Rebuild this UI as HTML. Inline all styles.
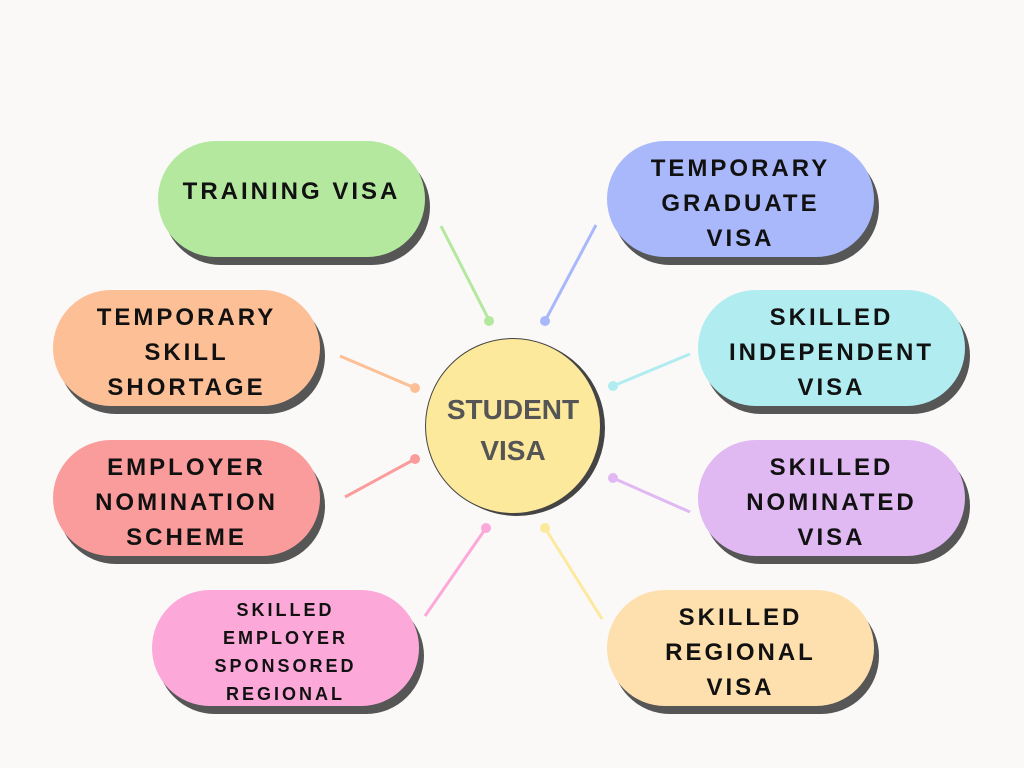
<!DOCTYPE html>
<html><head><style>
body{margin:0;width:1024px;height:768px;background:#faf9f8;position:relative;overflow:hidden;font-family:"Liberation Sans",sans-serif}
.p{position:absolute;width:267px;height:116px;border-radius:58px;box-shadow:5px 8px 0 #565656;display:flex;align-items:center;justify-content:center;text-align:center;font-weight:bold;font-size:24px;letter-spacing:3px;line-height:35px;color:#111;padding-top:8px;box-sizing:border-box}
.c{position:absolute;left:425px;top:338px;width:176px;height:176px;border-radius:50%;background:#fde99c;border:1.5px solid #444;box-shadow:4px 2px 0 #444;display:flex;align-items:center;justify-content:center;text-align:center;font-weight:bold;font-size:28px;line-height:41px;color:#555;padding-top:8px;box-sizing:border-box}
</style></head><body>
<svg width="1024" height="768" style="position:absolute;left:0;top:0">
<g stroke-width="3">
<line x1="441" y1="226" x2="489" y2="320" stroke="#b4e89e"/><circle cx="489" cy="321" r="5" fill="#b4e89e"/>
<line x1="596" y1="225" x2="545" y2="321" stroke="#a9b8fb"/><circle cx="545" cy="321" r="5" fill="#a9b8fb"/>
<line x1="340" y1="356" x2="415" y2="388" stroke="#fdbf96"/><circle cx="415" cy="388" r="5" fill="#fdbf96"/>
<line x1="690" y1="354" x2="613" y2="386" stroke="#b0ecf0"/><circle cx="613" cy="386" r="5" fill="#b0ecf0"/>
<line x1="345" y1="497" x2="415" y2="459" stroke="#fb9c9c"/><circle cx="415" cy="459" r="5" fill="#fb9c9c"/>
<line x1="690" y1="512" x2="613" y2="478" stroke="#e0b8f2"/><circle cx="613" cy="478" r="5" fill="#e0b8f2"/>
<line x1="425" y1="616" x2="486" y2="528" stroke="#fca9d9"/><circle cx="486" cy="528" r="5" fill="#fca9d9"/>
<line x1="602" y1="619" x2="545" y2="528" stroke="#fde99c"/><circle cx="545" cy="528" r="5" fill="#fde99c"/>
</g></svg>
<div class="p" style="left:158px;top:141px;background:#b4e89e;align-items:flex-start;padding-top:0"><span style="margin-top:33px">TRAINING VISA</span></div>
<div class="p" style="left:607px;top:141px;background:#a9b8fb">TEMPORARY<br>GRADUATE<br>VISA</div>
<div class="p" style="left:53px;top:290px;background:#fdbf96">TEMPORARY<br>SKILL<br>SHORTAGE</div>
<div class="p" style="left:698px;top:290px;background:#b0ecf0">SKILLED<br>INDEPENDENT<br>VISA</div>
<div class="p" style="left:53px;top:440px;background:#fb9c9c">EMPLOYER<br>NOMINATION<br>SCHEME</div>
<div class="p" style="left:698px;top:440px;background:#e0b8f2">SKILLED<br>NOMINATED<br>VISA</div>
<div class="p" style="left:152px;top:590px;background:#fca9d9;font-size:18px;line-height:28px;padding-top:8px">SKILLED<br>EMPLOYER<br>SPONSORED<br>REGIONAL</div>
<div class="p" style="left:607px;top:590px;background:#fde0ad">SKILLED<br>REGIONAL<br>VISA</div>
<div class="c">STUDENT<br>VISA</div>
</body></html>
